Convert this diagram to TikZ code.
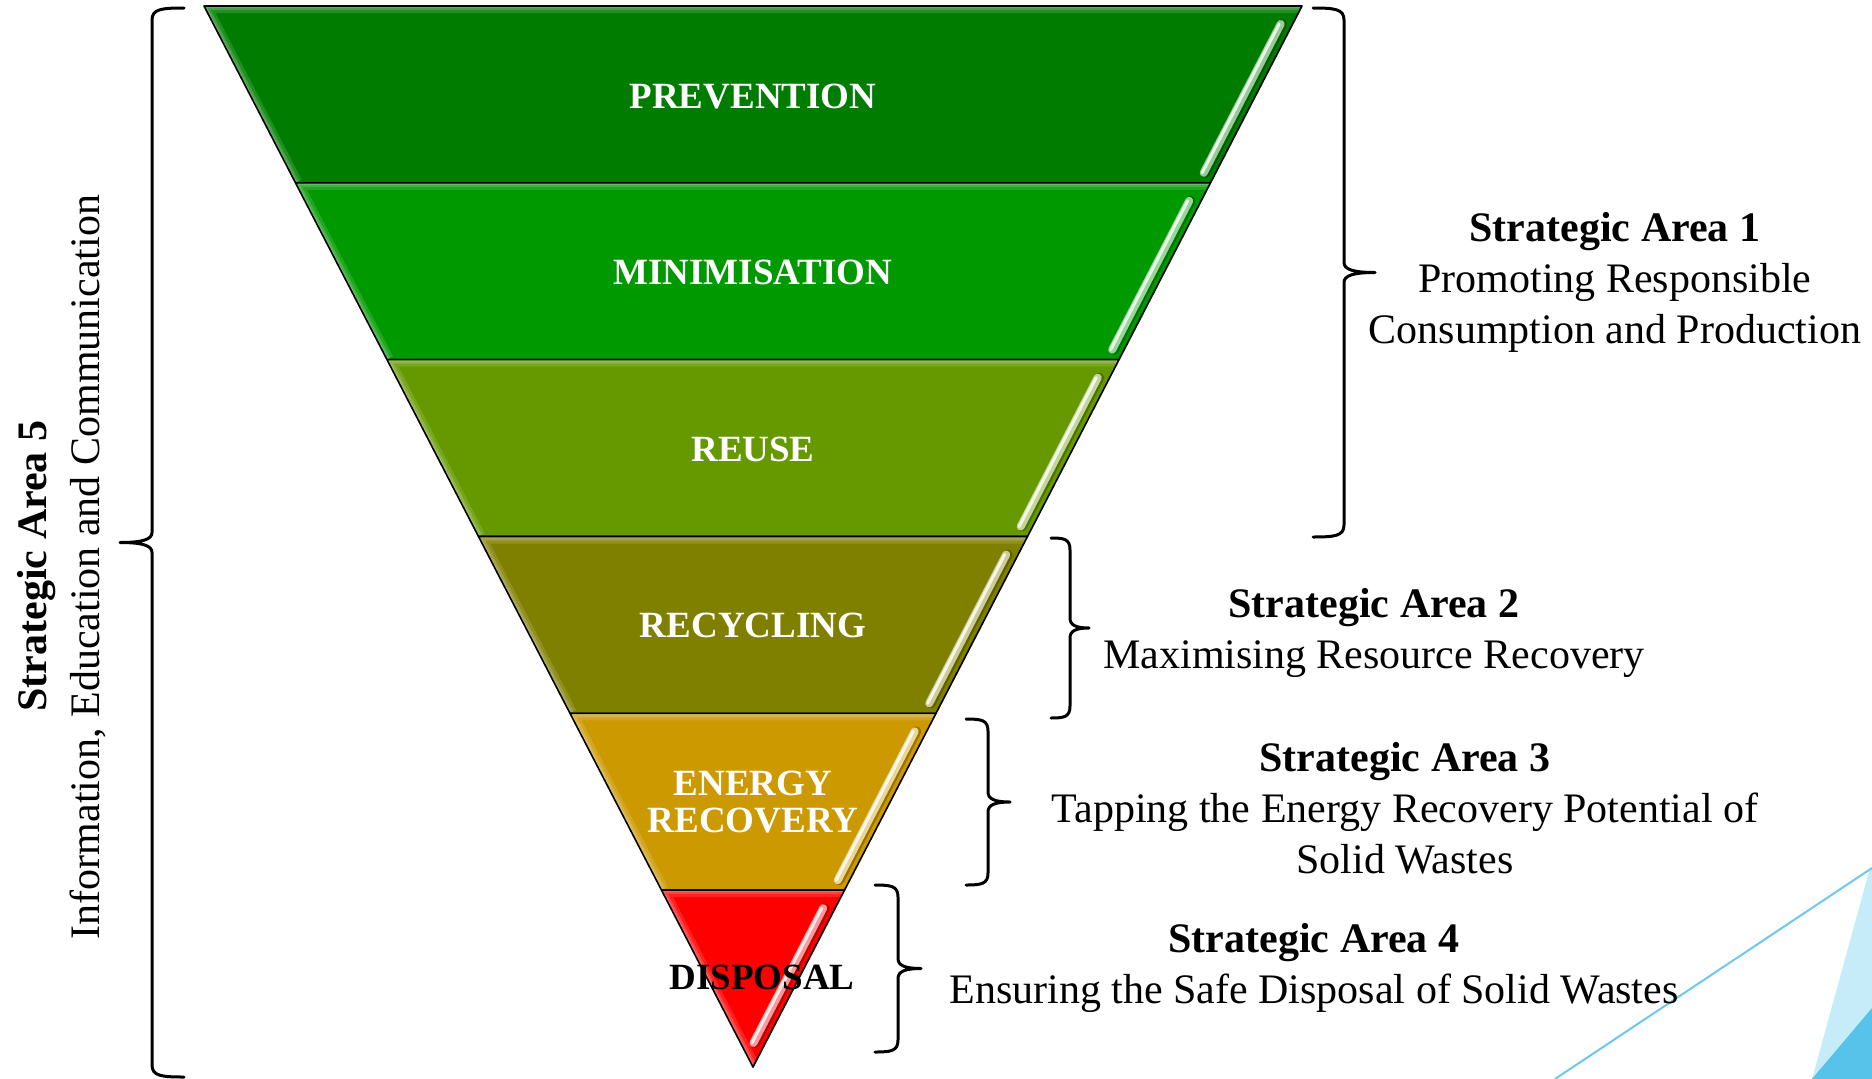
\documentclass[tikz,border=0pt]{standalone}
\usepackage{fontspec}
\setmainfont{Liberation Serif}
\definecolor{cPrev}{RGB}{0,125,0}
\definecolor{cMin}{RGB}{0,153,0}
\definecolor{cReuse}{RGB}{102,153,0}
\definecolor{cRec}{RGB}{128,128,0}
\definecolor{cEn}{RGB}{204,153,0}
\definecolor{cDis}{RGB}{255,0,0}
\definecolor{cLine}{RGB}{110,200,235}
\definecolor{cLight}{RGB}{198,236,249}
\definecolor{cDark}{RGB}{87,194,234}
\tikzset{
 bracestyle/.style={line width=3pt, line join=round, line cap=round},
 bandlabel/.style={font=\fontsize{37}{37}\selectfont\bfseries, text=white, align=center, inner sep=0pt},
 satext/.style={font=\fontsize{42}{51}\selectfont, align=center, inner sep=0pt},
 bandedge/.style={line width=1.6pt, line join=round, draw=black},
}
% #1 xv, #2 top, #3 bottom, #4 dir (+1 tip right, -1 tip left), #5 length
\newcommand\myBrace[5]{%
 \pgfmathsetmacro\bmid{(#2+#3)/2}%
 \pgfmathsetmacro\bhook{#1-#5*(#4)}%
 \pgfmathsetmacro\bhc{#1-0.3*#5*(#4)}%
 \pgfmathsetmacro\btip{#1+#5*(#4)}%
 \pgfmathsetmacro\btc{#1+0.3*#5*(#4)}%
 \draw[bracestyle] (\bhook,#2) .. controls (\bhc,#2) and (#1,#2+1) .. (#1,#2+12)
   -- (#1,\bmid-10) .. controls (#1,\bmid-3) and (\btc,\bmid) .. (\btip,\bmid)
   .. controls (\btc,\bmid) and (#1,\bmid+3) .. (#1,\bmid+10)
   -- (#1,#3-12) .. controls (#1,#3-1) and (\bhc,#3) .. (\bhook,#3);
}
\begin{document}
\begin{tikzpicture}[x=1pt,y=-1pt]
\useasboundingbox (0,0) rectangle (1872,1079);
% corner decoration
\fill[cLight] (1812,1079) -- (1870,868) -- (1872,868) -- (1872,1079) -- cycle;
\fill[cDark] (1812,1079) -- (1872,1008) -- (1872,1079) -- cycle;
\draw[cLine, line width=2pt] (1555,1079) -- (1872,868);
% bands
\foreach \i/\col in {0/cPrev,1/cMin,2/cReuse,3/cRec,4/cEn,5/cDis} {
 \pgfmathsetmacro\ya{6+176.8333*\i}
 \pgfmathsetmacro\yb{6+176.8333*(\i+1)}
 \pgfmathsetmacro\wa{91.5*(6-\i)}
 \pgfmathsetmacro\wb{91.5*(5-\i)}
 \pgfmathsetmacro\ha{\ya+18}
 \pgfmathsetmacro\hb{ifthenelse(\i==5,\yb-24,\yb-10)}
 \pgfmathsetmacro\xa{753+0.517436*(1067-\ha)-12}
 \pgfmathsetmacro\xb{753+0.517436*(1067-\hb)-12}
 \begin{scope}
  \clip (753-\wa,\ya) -- (753+\wa,\ya) -- (753+\wb,\yb) -- (753-\wb,\yb) -- cycle;
  \fill[\col] (0,\ya) rectangle (1872,\yb);
  \foreach \w/\o in {14/0.2,8/0.25,4/0.3} {
   \draw[line width=\w pt, \col!35!white, opacity=\o] (753-\wb,\yb) -- (753-\wa,\ya) -- (753+\wa,\ya);
  }
 \end{scope}
 \draw[line width=10pt, line cap=round, \col!75!black] (\xa+1.5,\ha) -- (\xb+1.5,\hb);
 \draw[line width=8pt, line cap=round, \col!40!white] (\xa,\ha) -- (\xb,\hb);
 \draw[line width=3pt, line cap=round, white!92!\col] (\xa-1.5,\ha) -- (\xb-1.5,\hb);
 \draw[bandedge] (753-\wa,\ya) -- (753+\wa,\ya) -- (753+\wb,\yb) -- (753-\wb,\yb) -- cycle;
}
% band labels
\node[bandlabel] (prev) at (753,97) {PREVENTION};
\node[bandlabel] (mini) at (753,272) {MINIMISATION};
\node[bandlabel] (reuse) at (753,449) {REUSE};
\node[bandlabel] (recy) at (753,625) {RECYCLING};
\node[bandlabel] (ener) at (753,802) {ENERGY\\RECOVERY};
\node[bandlabel, text=black] (disp) at (762,977) {DISPOSAL};
% braces
\myBrace{152}{8}{1077}{-1}{32}
\myBrace{1344}{8}{537}{1}{31}
\myBrace{1070}{538}{718}{1}{19}
\myBrace{988}{719}{885}{1}{22}
\myBrace{898}{885}{1052}{1}{23}
% strategic area texts
\node[satext] (sa1) at (1615,282) {\textbf{Strategic Area 1}\\Promoting Responsible\\Consumption and Production};
\node[satext] (sa2) at (1374,633) {\textbf{Strategic Area 2}\\Maximising Resource Recovery};
\node[satext] (sa3) at (1405,808) {\textbf{Strategic Area 3}\\Tapping the Energy Recovery Potential of\\Solid Wastes};
\node[satext] (sa4) at (1314,968) {\textbf{Strategic Area 4}\\Ensuring the Safe Disposal of Solid Wastes};
\node[satext, rotate=90] (sa5a) at (37,566) {\textbf{Strategic Area 5}};
\node[satext, rotate=90] (sa5b) at (88,567) {Information, Education and Communication};
\end{tikzpicture}
\end{document}
